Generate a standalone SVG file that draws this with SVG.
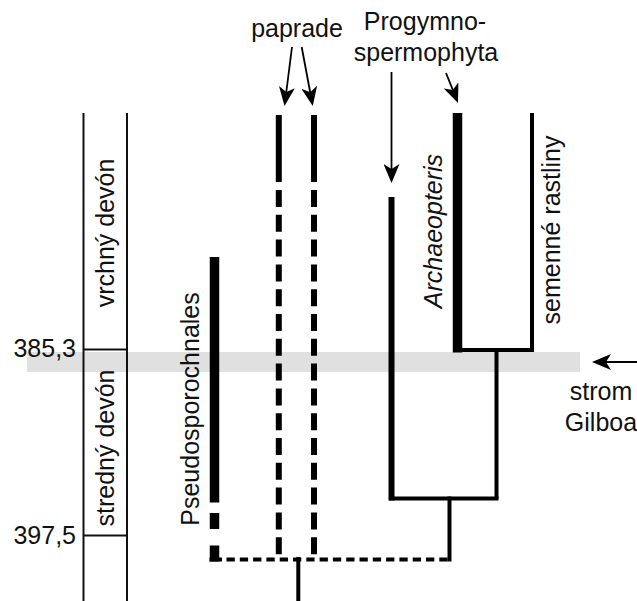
<svg xmlns="http://www.w3.org/2000/svg" width="637" height="601" viewBox="0 0 637 601">
  <style>
    text { font-family: "Liberation Sans", Arial, Helvetica, sans-serif; font-size: 25px; fill: #111; }
    .it { font-style: italic; }
    .mid { text-anchor: middle; }
    .end { text-anchor: end; }
    .scale { stroke: #111; stroke-width: 2; fill: none; }
    .thin { stroke: #000; stroke-width: 4; fill: none; }
    .med { stroke: #000; stroke-width: 6; fill: none; }
    .bar { stroke: #000; stroke-width: 9.5; fill: none; }
    .dashv { stroke: #000; stroke-width: 6; fill: none; stroke-dasharray: 17 7.8; }
    .dashh { stroke: #000; stroke-width: 4; fill: none; stroke-dasharray: 8.3 5; }
    .arrow { stroke: #000; stroke-width: 1.8; fill: none; marker-end: url(#ah); }
  </style>
  <defs>
    <marker id="ah" markerUnits="userSpaceOnUse" viewBox="0 0 20 16" markerWidth="20" markerHeight="16" refX="16" refY="8" orient="auto">
      <path d="M0,0 L19,8 L0,16 L5,8 Z" fill="#000"/>
    </marker>
  </defs>
  <rect width="637" height="601" fill="#fff"/>

  <g id="gilboa-band">
    <rect x="27" y="352" width="553" height="20" fill="#e0e0e0"/>
  </g>

  <g id="timescale">
    <line class="scale" x1="83.5" y1="113" x2="83.5" y2="601"/>
    <line class="scale" x1="127" y1="113" x2="127" y2="601"/>
    <line class="scale" x1="83.5" y1="349.5" x2="127" y2="349.5"/>
    <line class="scale" x1="83.5" y1="535.5" x2="127" y2="535.5"/>
    <text class="end" x="76" y="357">385,3</text>
    <text class="end" x="76" y="544">397,5</text>
    <text class="mid" transform="translate(114,233) rotate(-90)">vrchný devón</text>
    <text class="mid" transform="translate(114,448) rotate(-90)">stredný devón</text>
  </g>

  <g id="pseudosporochnales">
    <line class="bar" x1="214.5" y1="257" x2="214.5" y2="502.5"/>
    <line class="bar" x1="214.5" y1="513" x2="214.5" y2="529"/>
    <path d="M214.5,545.5 V561.5" class="bar"/>
    <text class="mid" transform="translate(199,409) rotate(-90)">Pseudosporochnales</text>
  </g>

  <g id="paprade">
    <line class="med" x1="278.8" y1="115" x2="278.8" y2="182"/>
    <line class="dashv" x1="278.8" y1="190" x2="278.8" y2="554.5"/>
    <line class="med" x1="314" y1="115" x2="314" y2="182"/>
    <line class="dashv" x1="314" y1="190" x2="314" y2="554.5"/>
    <text class="mid" x="297" y="37">paprade</text>
  </g>

  <g id="progymnospermophyta">
    <line class="med" x1="391.5" y1="197" x2="391.5" y2="500.5"/>
    <text class="mid" x="425" y="30">Progymno-</text>
    <text class="mid" x="426" y="61">spermophyta</text>
  </g>

  <g id="archaeopteris">
    <line class="bar" x1="457.5" y1="113" x2="457.5" y2="352.5"/>
    <text class="mid it" transform="translate(442,231) rotate(-90)">Archaeopteris</text>
  </g>

  <g id="semenne-rastliny">
    <line class="thin" x1="532" y1="113" x2="532" y2="352"/>
    <text class="mid" transform="translate(560,230) rotate(-90)">semenné rastliny</text>
  </g>

  <g id="strom-gilboa">
    <text class="mid" x="601" y="400">strom</text>
    <text class="mid" x="601" y="431">Gilboa</text>
  </g>

  <g id="connectors">
    <path class="thin" d="M453,350 H534"/>
    <path class="thin" d="M496.5,350 V498.5"/>
    <path class="thin" d="M389,498.5 H498.5"/>
    <path class="thin" d="M449.5,496.5 V561.5"/>
    <path class="thin" d="M209.5,559.5 H222"/>
    <path class="dashh" d="M226.5,559.5 H451.5"/>
    <path class="thin" d="M298.3,557 V601"/>
    <path class="arrow" d="M292,47 L284.9,103"/>
    <path class="arrow" d="M301.7,47 L312.2,103"/>
    <path class="arrow" d="M391.5,72 V180"/>
    <path class="arrow" d="M446,73 L456.9,100.2"/>
    <path class="arrow" d="M637,362 H595"/>
  </g>
</svg>
